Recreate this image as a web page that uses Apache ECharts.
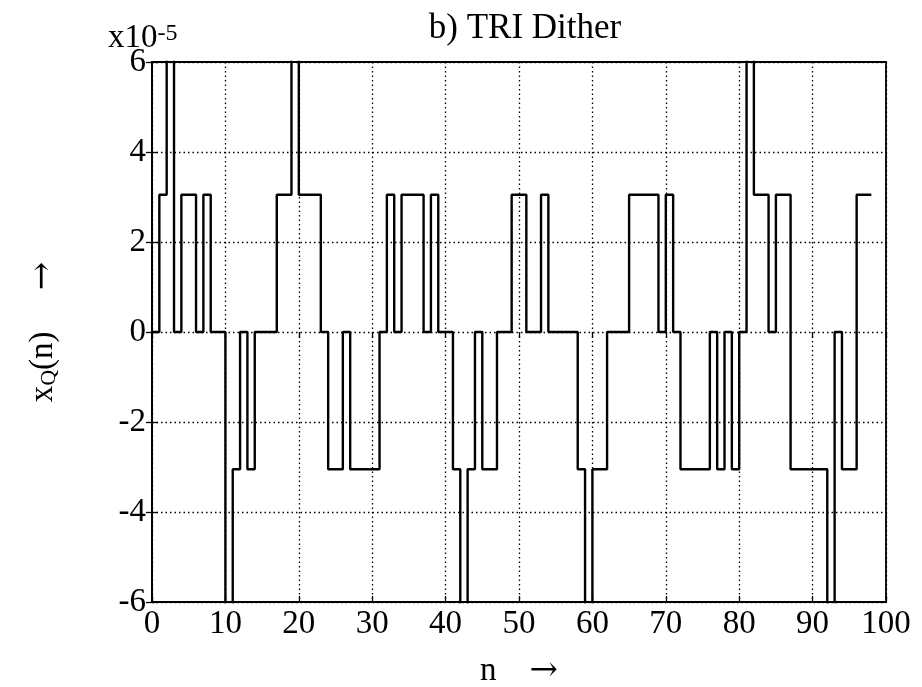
<!DOCTYPE html>
<html><head><meta charset="utf-8">
<script src="https://cdn.jsdelivr.net/npm/echarts@6/dist/echarts.min.js"></script>
<style>html,body{margin:0;padding:0;background:#fff}#c{width:922px;height:687px}</style>
</head><body><div id="c"></div>
<script>
// sample index n
const sampleN = [0,1,2,3,4,5,6,7,8,9,10,11,12,13,14,15,16,17,18,19,20,21,22,23,24,25,26,27,28,29,30,31,32,33,34,35,36,37,38,39,40,41,42,43,44,45,46,47,48,49,50,51,52,53,54,55,56,57,58,59,60,61,62,63,64,65,66,67,68,69,70,71,72,73,74,75,76,77,78,79,80,81,82,83,84,85,86,87,88,89,90,91,92,93,94,95,96,97,98];
// quantized signal x_Q(n), in units of 1e-5
const xQ = [0,3.05,6.1,0,3.05,3.05,0,3.05,0,0,
  -6.1,-3.05,0,-3.05,0,0,0,3.05,3.05,6.1,
  3.05,3.05,3.05,0,-3.05,-3.05,0,-3.05,-3.05,-3.05,
  -3.05,0,3.05,0,3.05,3.05,3.05,0,3.05,0,
  0,-3.05,-6.1,-3.05,0,-3.05,-3.05,0,0,3.05,
  3.05,0,0,3.05,0,0,0,0,-3.05,-6.1,
  -3.05,-3.05,0,0,0,3.05,3.05,3.05,3.05,0,
  3.05,0,-3.05,-3.05,-3.05,-3.05,0,-3.05,0,-3.05,
  0,6.1,3.05,3.05,0,3.05,3.05,-3.05,-3.05,-3.05,
  -3.05,-3.05,-6.1,0,-3.05,-3.05,3.05,3.05,3.05];
const xTicks = [0,10,20,30,40,50,60,70,80,90,100];
const yTicks = [-6,-4,-2,0,2,4,6];
const titleText = 'b) TRI Dither';

const FONT = 'Liberation Serif';
const FS = 33;
const seriesData = sampleN.map((n, i) => [n, xQ[i]]);
const chart = echarts.init(document.getElementById('c'), null, {renderer: 'canvas'});
const gridLine = {show: true, lineStyle: {color: '#000', width: 1.3, type: [1.5, 3]}};
const arrowStyle = {fontFamily: 'DejaVu Serif', fontSize: 34, color: '#000'};
chart.setOption({
  animation: false,
  backgroundColor: '#fff',
  title: {text: titleText, left: 520, top: 6, textAlign: 'center',
    textStyle: {fontFamily: FONT, fontSize: 35, fontWeight: 'normal', color: '#000'}},
  grid: {left: 152, top: 62, right: 36, bottom: 85, show: true, borderColor: '#000', borderWidth: 1.8,
    backgroundColor: 'transparent', containLabel: false, outerBoundsMode: 'none'},
  graphic: [{type: 'text', left: 108, top: 22, style: {
    text: 'x10{sup|-5}', fontFamily: FONT, fontSize: FS, fill: '#000',
    rich: {sup: {fontFamily: FONT, fontSize: 24, verticalAlign: 'top', lineHeight: 33, padding: [0,0,18,0]}}}}],
  xAxis: [{type: 'value', min: xTicks[0], max: xTicks[xTicks.length-1], interval: 10,
    name: 'n    {arr|→}', nameLocation: 'middle', nameGap: 52,
    nameTextStyle: {fontFamily: FONT, fontSize: FS, color: '#000', rich: {arr: arrowStyle}},
    axisLine: {show: true, onZero: false, lineStyle: {color: '#000', width: 1.8}},
    axisTick: {show: true, inside: true, length: 6, lineStyle: {color: '#000', width: 1.3}},
    axisLabel: {fontFamily: FONT, fontSize: FS, color: '#000', margin: 6},
    splitLine: gridLine},
   {type: 'value', position: 'top', min: 0, max: 100, interval: 10,
    axisLine: {show: false}, axisTick: {show: true, inside: true, length: 6, lineStyle: {color: '#000', width: 1.3}},
    axisLabel: {show: false}, splitLine: {show: false}}],
  yAxis: [{type: 'value', min: yTicks[0], max: yTicks[yTicks.length-1], interval: 2,
    name: 'x{sub|Q}(n)     {arr|→}', nameLocation: 'middle', nameGap: 92, nameRotate: 90,
    nameTextStyle: {fontFamily: FONT, fontSize: FS, color: '#000',
      rich: {sub: {fontFamily: FONT, fontSize: 22, verticalAlign: 'bottom', padding: [12,0,0,0]}, arr: arrowStyle}},
    axisLine: {show: true, onZero: false, lineStyle: {color: '#000', width: 1.8}},
    axisTick: {show: true, inside: true, length: 6, lineStyle: {color: '#000', width: 1.3}},
    axisLabel: {fontFamily: FONT, fontSize: FS, color: '#000', margin: 6},
    splitLine: gridLine},
   {type: 'value', position: 'right', min: -6, max: 6, interval: 2,
    axisLine: {show: false}, axisTick: {show: true, inside: true, length: 6, lineStyle: {color: '#000', width: 1.3}},
    axisLabel: {show: false}, splitLine: {show: false}}],
  series: [{type: 'line', step: 'end', data: seriesData, showSymbol: false, symbol: 'none',
    clip: true, lineStyle: {color: '#000', width: 2.4}}]
});
</script></body></html>
